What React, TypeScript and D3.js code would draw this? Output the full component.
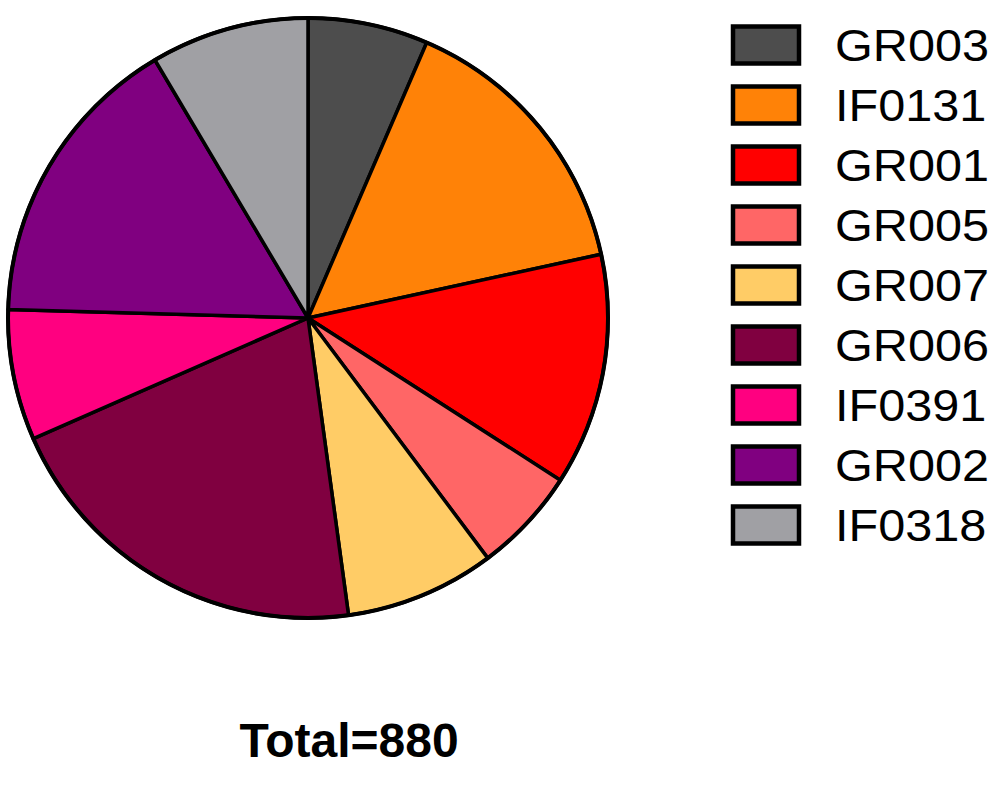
import React from "react";
import * as d3 from "d3";

const categories = ["GR003", "IF0131", "GR001", "GR005", "GR007", "GR006", "IF0391", "GR002", "IF0318"];
const values = [57, 133, 110, 50, 71, 181, 62, 141, 75];
const colors = ["#4d4d4d", "#ff8207", "#ff0000", "#ff6666", "#ffcc66", "#800040", "#ff0080", "#800080", "#a0a0a4"];
const totalLabel = "Total=880";

export default function App() {
  const W = 1005, H = 792;
  const cx = 308, cy = 318, r = 300;
  const pie = d3.pie<number>().value((d) => d).sort(null);
  const arcs = pie(values);
  const arc = d3.arc<d3.PieArcDatum<number>>().innerRadius(0).outerRadius(r);
  const y = d3.scaleBand<string>().domain(categories).range([15, 555]).paddingInner(0);
  return (
    <svg width={W} height={H} style={{ position: "absolute", left: 0, top: 0 }}>
      <rect width={W} height={H} fill="#fff" />
      <g transform={`translate(${cx},${cy})`}>
        {arcs.map((a, i) => (
          <path key={i} d={arc(a) || ""} fill={colors[i]} stroke="#000" strokeWidth={3.5} strokeLinejoin="round" />
        ))}
        <circle r={r} fill="none" stroke="#000" strokeWidth={4} />
      </g>
      {categories.map((c, i) => {
        const yc = (y(c) as number) + y.bandwidth() / 2;
        return (
          <g key={c}>
            <rect x={733} y={yc - 18.5} width={66} height={37} fill={colors[i]} stroke="#000" strokeWidth={4.5} />
            <text transform={`translate(835,${yc + 16}) scale(1.08,1)`} fontFamily="Liberation Sans, Arial, sans-serif" fontSize={45} fill="#000">{c}</text>
          </g>
        );
      })}
      <text x={349} y={757} textAnchor="middle" fontFamily="Liberation Sans, Arial, sans-serif" fontWeight="bold" fontSize={48} fill="#000">{totalLabel}</text>
    </svg>
  );
}
